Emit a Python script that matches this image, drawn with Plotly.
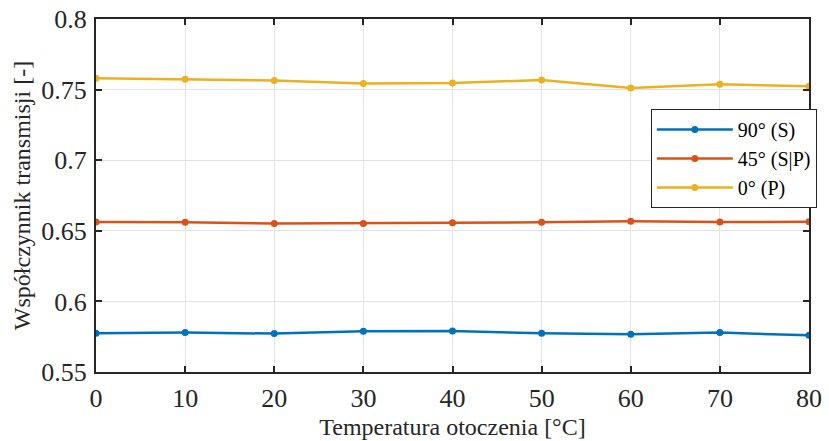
import plotly.graph_objects as go

temps = [0, 10, 20, 30, 40, 50, 60, 70, 80]
s90 = [0.5774, 0.5779, 0.5772, 0.5788, 0.5791, 0.5774, 0.5767, 0.5779, 0.5760]
s45 = [0.6562, 0.6561, 0.6552, 0.6552, 0.6557, 0.6561, 0.6567, 0.6562, 0.6564]
s0 = [0.7580, 0.7573, 0.7564, 0.7543, 0.7546, 0.7568, 0.7512, 0.7538, 0.7524]
names = ["90° (S)", "45° (S|P)", "0° (P)"]
colors = ["#0072BD", "#D95319", "#EDB120"]
x_ticks = [0, 10, 20, 30, 40, 50, 60, 70, 80]
y_ticks = [0.55, 0.6, 0.65, 0.7, 0.75, 0.8]
y_labels = ["0.55", "0.6", "0.65", "0.7", "0.75", "0.8"]

FONT = "Liberation Serif"

fig = go.Figure()
for ys, nm, c in zip([s90, s45, s0], names, colors):
    fig.add_trace(go.Scatter(
        x=temps, y=ys, name=nm, mode="lines+markers",
        line=dict(color=c, width=2.5),
        marker=dict(color=c, size=7),
    ))

axis_common = dict(
    showline=True, linecolor="#262626", linewidth=2, mirror="allticks",
    ticks="inside", ticklen=6, tickwidth=1.5, tickcolor="#262626",
    showgrid=True, gridcolor="#e3e3e3", gridwidth=1, zeroline=False,
    tickfont=dict(family=FONT, size=26, color="#262626"),
    automargin=False,
)

fig.update_xaxes(range=[0, 80], tickvals=x_ticks, ticklabelstandoff=2,
                 title=dict(text="Temperatura otoczenia [°C]", font=dict(family=FONT, size=24, color="#262626"), standoff=6),
                 **axis_common)
fig.update_yaxes(range=[0.55, 0.8], tickvals=y_ticks, ticktext=y_labels, ticklabelstandoff=2,
                 title=dict(text="Współczynnik transmisji [-]", font=dict(family=FONT, size=24, color="#262626"), standoff=4),
                 **axis_common)

fig.update_layout(
    width=829, height=441,
    font=dict(family=FONT, size=24),
    margin=dict(l=96, r=20, t=19, b=69, pad=0),
    paper_bgcolor="white", plot_bgcolor="white",
    legend=dict(
        x=1.011, xanchor="right", y=0.745, yanchor="top",
        bgcolor="white", bordercolor="#262626", borderwidth=1,
        font=dict(family=FONT, size=20, color="#000000"),
        itemwidth=76, tracegroupgap=0,
    ),
    showlegend=True,
)

fig.write_html("out.html")
